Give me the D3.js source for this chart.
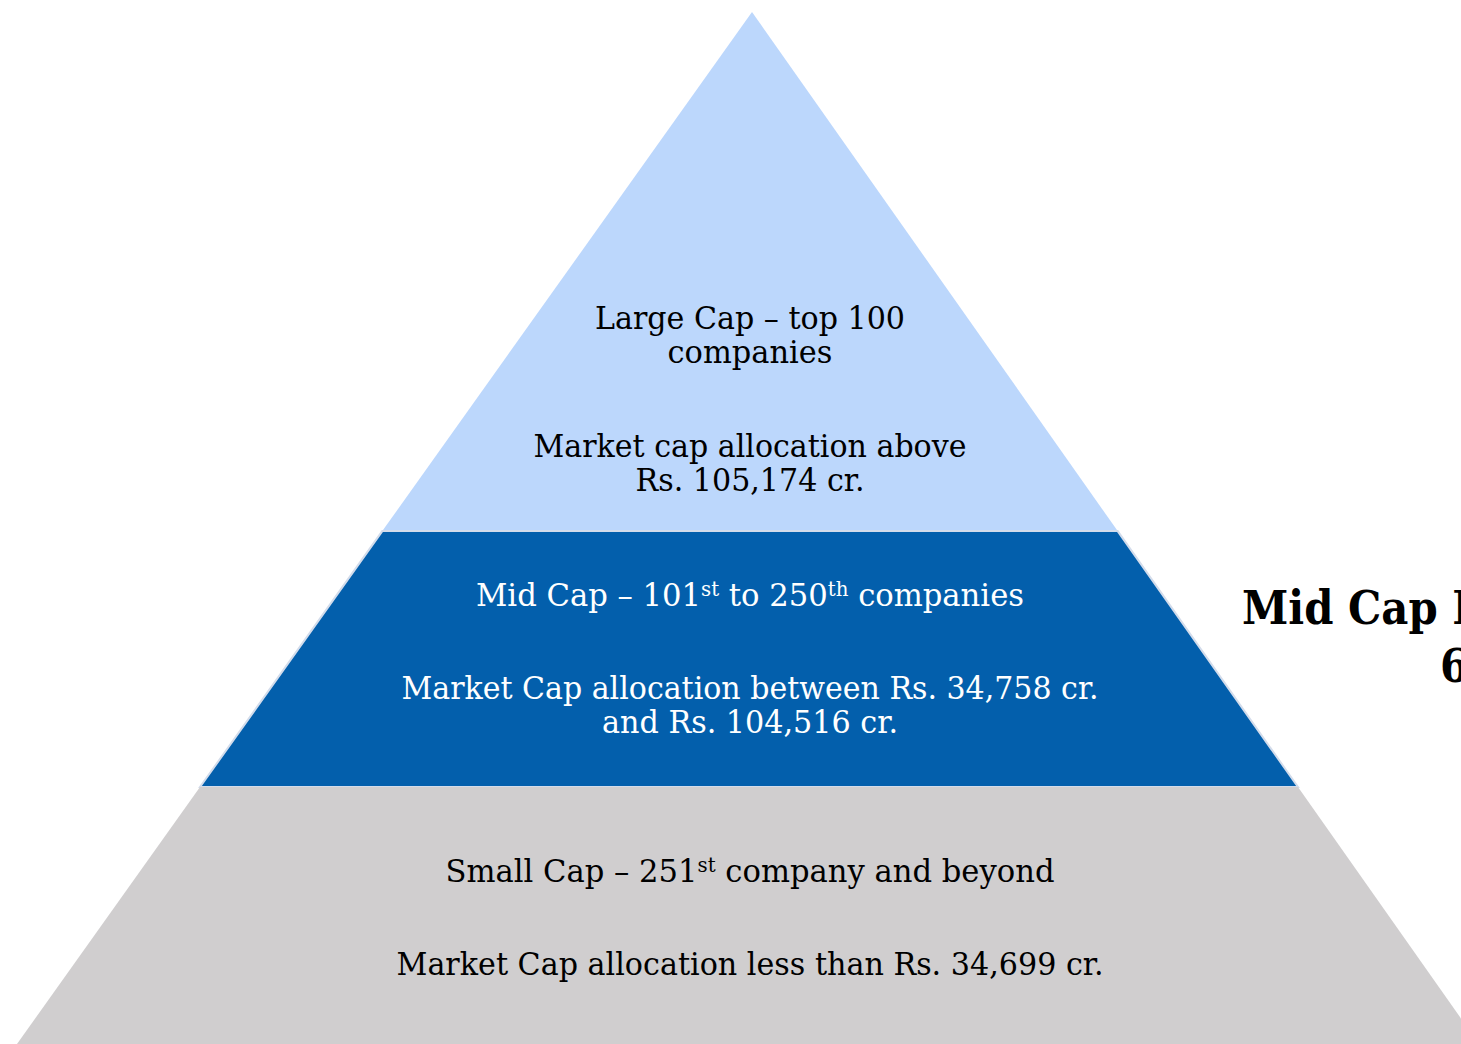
<!DOCTYPE html>
<html>
<head>
<meta charset="utf-8">
<script src="https://cdn.jsdelivr.net/npm/d3@7"></script>
<style>
html,body{margin:0;padding:0;background:#fff;overflow:hidden;}
svg{display:block;}
</style>
</head>
<body>
<svg id="chart" width="1461" height="1044"></svg>
<script>
// ---- data ----
const tiers = ["Large Cap", "Mid Cap", "Small Cap"];
const tierTop = [0, 0.503, 0.751];      // fraction of pyramid height
const tierBottom = [0.503, 0.751, 1.0];
const tierColors = ["#bcd7fc", "#035fac", "#d0cecf"];
const tierTextColors = ["#000000", "#ffffff", "#000000"];
const labelLines = [
  {tier:0, parts:[["Large Cap – top 100",""]], pos:0.307, w:310},
  {tier:0, parts:[["companies",""]], pos:0.340, w:165},
  {tier:0, parts:[["Market cap allocation above",""]], pos:0.431, w:433},
  {tier:0, parts:[["Rs. 105,174 cr.",""]], pos:0.464, w:229},
  {tier:1, parts:[["Mid Cap – 101",""],["st","sup"],[" to 250",""],["th","sup"],[" companies",""]], pos:0.576, w:548},
  {tier:1, parts:[["Market Cap allocation between Rs. 34,758 cr.",""]], pos:0.666, w:697},
  {tier:1, parts:[["and Rs. 104,516 cr.",""]], pos:0.699, w:296},
  {tier:2, parts:[["Small Cap – 251",""],["st","sup"],[" company and beyond",""]], pos:0.843, w:609},
  {tier:2, parts:[["Market Cap allocation less than Rs. 34,699 cr.",""]], pos:0.933, w:707}
];
const sideTitle = ["Mid Cap Index", "6"];

// ---- layout ----
const svg = d3.select("#chart");
const cx = 752;
const y = d3.scaleLinear().domain([0, 1]).range([12, 1044]);
const leftW = d3.scaleLinear().domain([0, 1]).range([0, 735]);
const rightW = d3.scaleLinear().domain([0, 1]).range([0, 727]);

function trap(t0, t1) {
  return [
    [cx - leftW(t0), y(t0)], [cx + rightW(t0), y(t0)],
    [cx + rightW(t1), y(t1)], [cx - leftW(t1), y(t1)]
  ];
}
const line = d3.line();

svg.selectAll("path.tier")
  .data(tiers)
  .join("path")
  .attr("class", "tier")
  .attr("d", (d, i) => line(trap(tierTop[i], tierBottom[i])) + "Z")
  .attr("fill", (d, i) => tierColors[i])
  .attr("stroke", (d, i) => i === 1 ? "#d3dceb" : "none")
  .attr("stroke-width", 2);

const fontFam = "'DejaVu Serif', 'Liberation Serif', serif";
const texts = svg.selectAll("text.lbl")
  .data(labelLines)
  .join("text")
  .attr("class", "lbl")
  .attr("x", cx - 2)
  .attr("y", d => y(d.pos))
  .attr("text-anchor", "middle")
  .attr("font-family", fontFam)
  .attr("font-size", 31)
  .attr("fill", d => tierTextColors[d.tier])
  .attr("textLength", d => d.w)
  .attr("lengthAdjust", "spacingAndGlyphs");

texts.each(function(d) {
  const t = d3.select(this);
  d.parts.forEach(p => {
    const ts = t.append("tspan").text(p[0]);
    if (p[1] === "sup") ts.attr("font-size", 20).attr("baseline-shift", "48%");
  });
});

svg.append("text")
  .attr("transform", "translate(1242,624) scale(0.89,1)")
  .attr("font-family", fontFam).attr("font-weight", "bold")
  .attr("font-size", 47).attr("fill", "#000")
  .text(sideTitle[0]);
svg.append("text")
  .attr("transform", "translate(1440,682) scale(0.89,1)")
  .attr("font-family", fontFam).attr("font-weight", "bold")
  .attr("font-size", 47).attr("fill", "#000")
  .text(sideTitle[1]);
</script>
</body>
</html>
